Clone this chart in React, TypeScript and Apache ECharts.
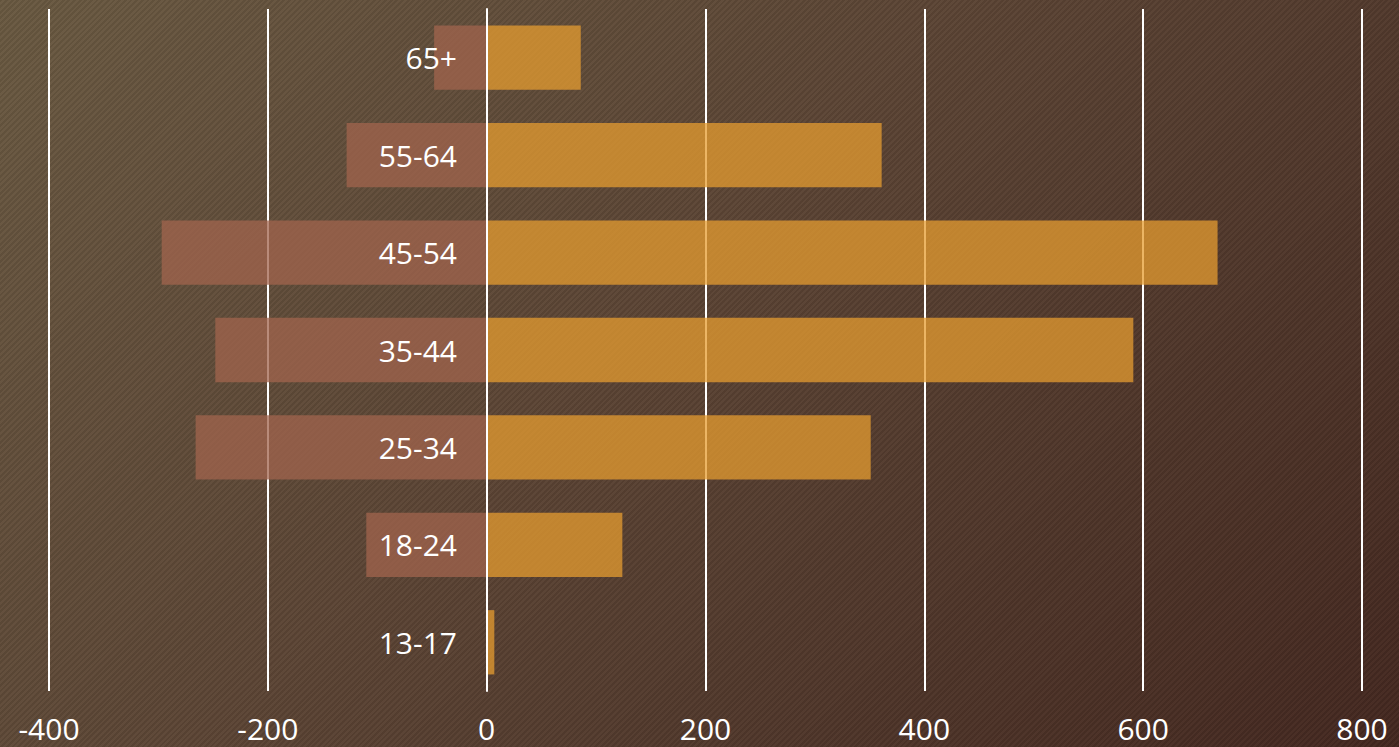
import React, { useEffect, useRef } from "react";
import * as echarts from "echarts";

const categories = ["13-17", "18-24", "25-34", "35-44", "45-54", "55-64", "65+"];
const positiveValues = [7, 124, 351, 591, 668, 361, 86];
const negativeValues = [0, -110, -266, -248, -297, -128, -48];
const xTicks = { min: -400, max: 800, interval: 200 };

export default function App() {
  const ref = useRef<HTMLDivElement>(null);
  useEffect(() => {
    document.body.style.margin = "0";
    const chart = echarts.init(ref.current!, undefined, { renderer: "svg" });
    const font = "'Open Sans', sans-serif";
    chart.setOption({
      animation: false,
      backgroundColor: "transparent",
      grid: {
        left: 49,
        right: 37,
        top: 9,
        bottom: 56,
        containLabel: false,
        outerBoundsMode: "none",
      },
      xAxis: {
        type: "value",
        min: xTicks.min,
        max: xTicks.max,
        interval: xTicks.interval,
        axisLine: { show: false },
        axisTick: { show: false },
        splitLine: { show: true, lineStyle: { color: "#ffffff", width: 2 } },
        axisLabel: { color: "#ffffff", fontSize: 30, fontFamily: font, margin: 22 },
      },
      yAxis: {
        type: "category",
        data: categories,
        z: 10,
        axisLine: { show: true, onZero: true, lineStyle: { color: "#ffffff", width: 2 } },
        axisTick: { show: false },
        splitLine: { show: false },
        axisLabel: { color: "#ffffff", fontSize: 30, fontFamily: font, margin: -408 },
      },
      series: [
        {
          type: "bar",
          name: "negative",
          data: negativeValues,
          barWidth: "66%",
          barGap: "-100%",
          itemStyle: { color: "#a1644d", opacity: 0.75 },
        },
        {
          type: "bar",
          name: "positive",
          data: positiveValues,
          barWidth: "66%",
          barGap: "-100%",
          itemStyle: { color: "#e69c30", opacity: 0.75 },
        },
      ],
    });
    return () => chart.dispose();
  }, []);
  return (
    <div
      style={{
        position: "fixed",
        left: 0,
        top: 0,
        width: 1399,
        height: 747,
        background:
          "repeating-linear-gradient(135deg, rgba(0,0,0,0.07) 0px, rgba(0,0,0,0.07) 2px, rgba(255,255,255,0.02) 2px, rgba(255,255,255,0.02) 4px), linear-gradient(135deg, #6a5a42 0%, #5c4535 45%, #442820 100%)",
      }}
    >
      <div ref={ref} style={{ width: 1399, height: 747 }} />
    </div>
  );
}
